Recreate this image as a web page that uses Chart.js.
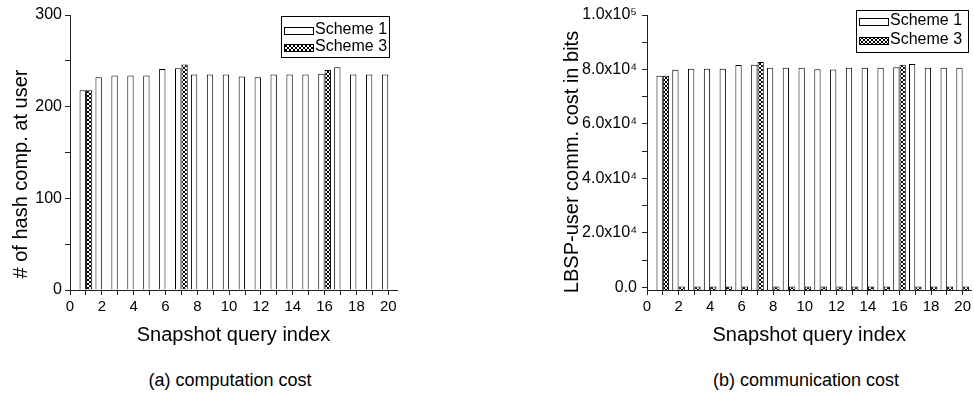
<!DOCTYPE html>
<html>
<head>
<meta charset="utf-8">
<script src="https://cdn.jsdelivr.net/npm/chart.js@4.4.1/dist/chart.umd.min.js"></script>
<style>
    body { margin: 0; background: #fff; width: 974px; height: 394px; position: relative; overflow: hidden; }
    canvas { position: absolute; top: 0; }
    #chartA { left: 0; }
    #chartB { left: 540px; }
    .caption { position: absolute; top: 370px; font: 18px "Liberation Sans", Arial, sans-serif; color: #000; width: 300px; text-align: center; }
</style>
</head>
<body>
<canvas id="chartA" width="410" height="350"></canvas>
<canvas id="chartB" width="434" height="350"></canvas>
<div class="caption" style="left:80px">(a) computation cost</div>
<div class="caption" style="left:656px">(b) communication cost</div>
<script>
// Snapshot query indices
const queryIndex = [1, 2, 3, 4, 5, 6, 7, 8, 9, 10, 11, 12, 13, 14, 15, 16, 17, 18, 19, 20];
const xTicks = [0, 1, 2, 3, 4, 5, 6, 7, 8, 9, 10, 11, 12, 13, 14, 15, 16, 17, 18, 19, 20];

// (a) # of hash computations at user
const hashScheme1 = [218, 232, 234, 234, 234, 241, 242, 235, 235, 235, 233, 232, 235, 235, 235, 236, 243, 235, 235, 235];
const hashScheme3 = [218, null, null, null, null, null, 246, null, null, null, null, null, null, null, null, 240, null, null, null, null];
const hashTicks = [0, 50, 100, 150, 200, 250, 300];

// (b) LBSP-user communication cost in bits
const commScheme1 = [77700, 79900, 80300, 80300, 80300, 81600, 81700, 80600, 80600, 80600, 80100, 80000, 80600, 80600, 80600, 80800, 82000, 80600, 80600, 80600];
const commScheme3 = [77700, 300, 300, 300, 300, 300, 82700, 300, 300, 300, 300, 300, 300, 300, 300, 81700, 300, 300, 300, 300];
const commTicks = [0, 10000, 20000, 30000, 40000, 50000, 60000, 70000, 80000, 90000, 100000];
const commTickLabels = { 0: '0.0', 20000: '2.0x10\u2074', 40000: '4.0x10\u2074', 60000: '6.0x10\u2074', 80000: '8.0x10\u2074', 100000: '1.0x10\u2075' };

const seriesNames = ['Scheme 1', 'Scheme 3'];

const FONT = '"Liberation Sans", Arial, sans-serif';

// cross-hatch fill used for Scheme 3
function makeHatch() {
    const c = document.createElement('canvas');
    c.width = 4; c.height = 4;
    const g = c.getContext('2d');
    g.fillStyle = '#fff';
    g.fillRect(0, 0, 4, 4);
    g.fillStyle = '#000';
    for (let i = 0; i < 4; i++) {
        g.fillRect(i, i, 1, 1);
        g.fillRect(3 - i, i, 1, 1);
    }
    return g.createPattern(c, 'repeat');
}
const hatch = makeHatch();

function toPoints(values) {
    return queryIndex.map((x, i) => ({ x: x, y: values[i] }));
}

function fixedTicks(values) {
    return (s) => { s.ticks = values.map(v => ({ value: v })); };
}

// legend box and rotated y title
const decor = {
    id: 'decor',
    afterDraw(chart, args, o) {
        const ctx = chart.ctx;
        ctx.save();
        ctx.fillStyle = '#000';
        ctx.font = '20px ' + FONT;
        ctx.textAlign = 'center';
        ctx.textBaseline = 'middle';
        ctx.translate(o.titleX, o.titleY);
        ctx.rotate(-Math.PI / 2);
        ctx.fillText(o.title, 0, 0);
        ctx.restore();

        const b = o.box;
        ctx.save();
        ctx.fillStyle = '#fff';
        ctx.fillRect(b.x, b.y, b.w, b.h);
        ctx.strokeStyle = '#000';
        ctx.lineWidth = 1;
        ctx.strokeRect(b.x + 0.5, b.y + 0.5, b.w, b.h);
        ctx.font = '16px ' + FONT;
        ctx.textAlign = 'left';
        ctx.textBaseline = 'alphabetic';
        o.rows.forEach((r, i) => {
            ctx.fillStyle = i === 0 ? '#fff' : hatch;
            ctx.fillRect(b.x + 3, r, 29, 7);
            ctx.strokeRect(b.x + 3.5, r + 0.5, 29, 7);
            ctx.fillStyle = '#000';
            ctx.fillText(seriesNames[i], b.x + 34, r + 7);
        });
        ctx.restore();
    }
};

function axisX() {
    return {
        type: 'linear',
        min: 0,
        max: 20.55,
        offset: false,
        afterFit: (s) => { s.height = 60; },
        afterBuildTicks: fixedTicks(xTicks),
        ticks: {
            autoSkip: false,
            maxRotation: 0,
            padding: 3,
            color: '#000',
            font: { family: FONT, size: 15 },
            callback: (v) => (v % 2 === 0 ? String(v) : '')
        },
        grid: { offset: false, drawOnChartArea: false, tickLength: 5, color: '#222' },
        border: { color: '#222' },
        title: { display: true, text: 'Snapshot query index', color: '#000', font: { family: FONT, size: 20 }, padding: { top: 0, bottom: 3 } }
    };
}

function makeChart(id, s1, s3, yOpts, yWidth, padRight, base, decorOpts) {
    const ds = [
        { label: seriesNames[0], data: toPoints(s1), backgroundColor: '#fff', borderColor: '#000', borderWidth: 1 },
        { label: seriesNames[1], data: toPoints(s3), backgroundColor: hatch, borderColor: '#000', borderWidth: 1 }
    ];
    if (base !== null) ds.forEach(d => { d.base = base; });
    return new Chart(document.getElementById(id), {
        type: 'bar',
        data: { datasets: ds },
        plugins: [decor],
        options: {
            responsive: false,
            animation: false,
            devicePixelRatio: 1,
            layout: { padding: { top: 15, right: padRight, left: 0, bottom: 0 } },
            datasets: { bar: { categoryPercentage: 0.8, barPercentage: 1, grouped: true } },
            plugins: { legend: { display: false }, tooltip: { enabled: false }, decor: decorOpts },
            scales: {
                x: axisX(),
                y: Object.assign({
                    afterFit: (s) => { s.width = yWidth; },
                    grid: { drawOnChartArea: false, tickLength: 5, color: '#222' },
                    border: { color: '#222' }
                }, yOpts)
            }
        }
    });
}

makeChart('chartA', hashScheme1, hashScheme3, {
    min: 0,
    max: 300,
    afterBuildTicks: fixedTicks(hashTicks),
    ticks: {
        autoSkip: false,
        padding: 3,
        color: '#000',
        font: { family: FONT, size: 16 },
        callback: (v) => (v % 100 === 0 ? String(v) : '')
    }
}, 70, 13, null, {
    title: '# of hash comp. at user', titleX: 21, titleY: 174,
    box: { x: 281, y: 16, w: 108, h: 41 }, rows: [27, 44]
});

makeChart('chartB', commScheme1, commScheme3, {
    min: -1000,
    max: 100000,
    afterBuildTicks: fixedTicks(commTicks),
    ticks: {
        autoSkip: false,
        padding: 5,
        color: '#000',
        font: { family: FONT, size: 16 },
        callback: (v) => (commTickLabels[v] !== undefined ? commTickLabels[v] : '')
    }
}, 107, 1, -1000, {
    title: 'LBSP-user comm. cost in bits', titleX: 32, titleY: 162,
    box: { x: 316, y: 10, w: 112, h: 42 }, rows: [18, 37]
});
</script>
</body>
</html>
